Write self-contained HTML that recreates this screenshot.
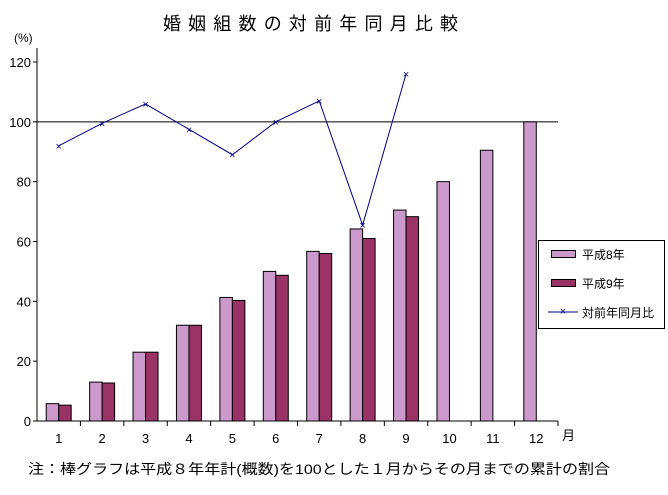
<!DOCTYPE html>
<html><head><meta charset="utf-8"><style>
body{margin:0;background:#fff;}
svg text{font-family:"Liberation Sans","Noto Sans CJK JP",sans-serif;}
</style></head><body>
<svg width="668" height="490" viewBox="0 0 668 490">
<text x="163" y="30" font-size="18" textLength="303" lengthAdjust="spacing" letter-spacing="8">婚姻組数の対前年同月比較</text>
<text x="14" y="42" font-size="12">(%)</text>
<g id="plot"></g>
<text x="562" y="440" font-size="13">月</text>
<text x="28" y="474" font-size="14" textLength="582" lengthAdjust="spacingAndGlyphs">注：棒グラフは平成８年年計(概数)を100とした１月からその月までの累計の割合</text>
<g>
<rect x="538.5" y="240.5" width="126" height="88" fill="#fff" stroke="#000"/>
<rect x="551.5" y="250.5" width="24" height="7" fill="#cc99cc" stroke="#000"/>
<text x="582" y="259" font-size="12">平成8年</text>
<rect x="551.5" y="279.5" width="24" height="7" fill="#993366" stroke="#000"/>
<text x="582" y="288" font-size="12">平成9年</text>
<line x1="548" y1="312" x2="578" y2="312" stroke="#000080"/>
<text x="563" y="315" font-size="11" fill="#000080" text-anchor="middle">×</text>
<text x="582" y="317" font-size="12">対前年同月比</text>
</g>
</svg>
<script>
const categories=['1','2','3','4','5','6','7','8','9','10','11','12'];
const h8Values=[5.8,13,23,32,41.3,50,56.7,64.2,70.5,80,90.5,100];
const h9Values=[5.3,12.7,23,32,40.3,48.7,56,61,68.3];
const ratioValues=[92,99.5,106,97.5,89,100,107,65.5,116];
const yTicks=[0,20,40,60,80,100,120];
const NS='http://www.w3.org/2000/svg';
const g=document.getElementById('plot');
const X0=37,X1=558,Y0=421,YTOP=62,YMAX=120;
const step=(X1-X0)/categories.length;
const y=v=>Y0-(v/YMAX)*(Y0-YTOP);
const xc=i=>X0+step*i+step/2;
function el(t,a){const e=document.createElementNS(NS,t);for(const k in a)e.setAttribute(k,a[k]);g.appendChild(e);return e;}
yTicks.forEach(v=>{
 const t=el('line',{x1:X0-4,x2:X0,y1:y(v),y2:y(v),stroke:'#000'});
 
 
 const l=el('text',{x:X0-6,y:y(v)+5,'font-size':13,'text-anchor':'end'});l.textContent=v;
 
 
});
const ref=el('line',{x1:X0,x2:X1,y1:y(100),y2:y(100),stroke:'#000'});


categories.forEach((c,i)=>{
 const tx=X0+step*(i+1);
 const t=el('line',{x1:tx,x2:tx,y1:Y0,y2:Y0+5,stroke:'#000'});
 
 
 const l=el('text',{x:xc(i),y:Y0+22,'font-size':13,'text-anchor':'middle'});l.textContent=c;
 
 
});
const bw=12.5;
h8Values.forEach((v,i)=>{
 const b=el('rect',{x:xc(i)-bw,y:y(v),width:bw,height:Y0-y(v),fill:'#cc99cc',stroke:'#000'});
 
 
});
h9Values.forEach((v,i)=>{
 const b=el('rect',{x:xc(i),y:y(v),width:bw,height:Y0-y(v),fill:'#993366',stroke:'#000'});
 
 
});
const ln=el('polyline',{points:ratioValues.map((v,i)=>xc(i)+','+y(v)).join(' '),fill:'none',stroke:'#000080'});


ratioValues.forEach((v,i)=>{
 const m=el('text',{x:xc(i),y:y(v)+4,'font-size':11,fill:'#000080','text-anchor':'middle'});m.textContent='×';
 
 
});
const ya=el('line',{x1:X0,x2:X0,y1:48,y2:Y0,stroke:'#000'});


const xa=el('line',{x1:X0-4,x2:X1,y1:Y0,y2:Y0,stroke:'#000'});


</script>
</body></html>
